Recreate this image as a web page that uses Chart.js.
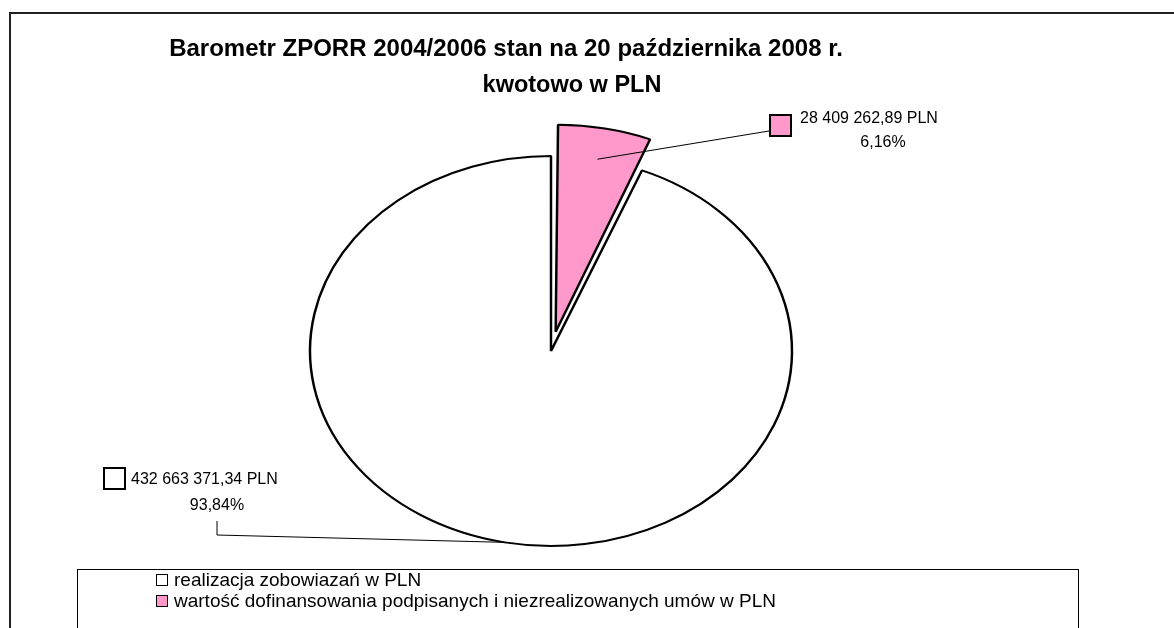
<!DOCTYPE html>
<html><head><meta charset="utf-8">
<script src="https://cdn.jsdelivr.net/npm/chart.js@4.4.0/dist/chart.umd.min.js"></script>
<style>html,body{margin:0;padding:0;background:#fff;}canvas{display:block;}</style>
</head><body>
<canvas id="c" width="1174" height="628"></canvas>
<script>
// ---- data ----
const titleLines = ['Barometr ZPORR 2004/2006 stan na 20 października 2008 r.', 'kwotowo w PLN'];
const categories = ['realizacja zobowiazań w PLN', 'wartość dofinansowania podpisanych i niezrealizowanych umów w PLN'];
const values = [432663371.34, 28409262.89];
const colors = ['#FFFFFF', '#FF99CC'];

// ---- helpers ----
const FONT = "'Liberation Sans', Arial, sans-serif";
function fmtPLN(v) {
  const parts = v.toFixed(2).split('.');
  const intp = parts[0].replace(/\B(?=(\d{3})+(?!\d))/g, ' ');
  return intp + ',' + parts[1] + ' PLN';
}
function fmtPct(v, total) { return (v / total * 100).toFixed(2).replace('.', ',') + '%'; }
const total = values.reduce((a, b) => a + b, 0);

// ---- layout ----
const SX = 241 / 195;           // horizontal stretch (elliptical pie)
const RADIUS = 195;
const labelLayout = [
  { box: [103, 467], text: [131, 480], pct: [217, 506], anchorK: 1.0, leader: [[217, 521], [217, 535]] },
  { box: [769, 114], text: [800, 119], pct: [883, 143], anchorK: 0.84, leader: [[769, 131]] }
];

const ellipsePlugin = {
  id: 'ellipse',
  beforeDraw(chart) {
    const ctx = chart.ctx;
    ctx.save();
    ctx.fillStyle = '#fff';
    ctx.fillRect(0, 0, chart.width, chart.height);
    ctx.strokeStyle = '#222';
    ctx.lineWidth = 2;
    ctx.strokeRect(10, 13, 1300, 800);
    ctx.fillStyle = '#000';
    ctx.font = 'bold 24px ' + FONT;
    ctx.textAlign = 'center';
    ctx.textBaseline = 'alphabetic';
    ctx.fillText(titleLines[0], 506, 56);
    ctx.font = 'bold 23.5px ' + FONT;
    ctx.fillText(titleLines[1], 572, 92);
    ctx.restore();
  },
  beforeDatasetsDraw(chart) {
    const a = chart.getDatasetMeta(0).data[0];
    const ctx = chart.ctx;
    ctx.save();
    ctx.translate(a.x, a.y);
    ctx.scale(SX, 1);
    ctx.translate(-a.x, -a.y);
  },
  afterDatasetsDraw(chart) {
    chart.ctx.restore();
  },
  afterDraw(chart) {
    const ctx = chart.ctx;
    const meta = chart.getDatasetMeta(0);
    ctx.save();
    meta.data.forEach((arc, i) => {
      const L = labelLayout[i];
      const p = arc.getProps(['x', 'y', 'startAngle', 'endAngle', 'outerRadius', 'circumference']);
      const off = (arc.options.offset || 0) / 4;
      const fix = 1 - Math.sin(Math.min(Math.PI, p.circumference || 0));
      const d = off * (1 + fix);
      const h = (p.startAngle + p.endAngle) / 2;
      const rr = d + L.anchorK * p.outerRadius;
      const ax = p.x + Math.cos(h) * rr * SX;
      const ay = p.y + Math.sin(h) * rr;
      ctx.strokeStyle = '#000';
      ctx.lineWidth = 1;
      ctx.beginPath();
      ctx.moveTo(ax, ay);
      for (let k = L.leader.length - 1; k >= 0; k--) ctx.lineTo(L.leader[k][0], L.leader[k][1]);
      ctx.stroke();
      ctx.fillStyle = colors[i];
      ctx.fillRect(L.box[0], L.box[1], 23, 23);
      ctx.lineWidth = 2;
      ctx.strokeRect(L.box[0] + 1, L.box[1] + 1, 21, 21);
      ctx.fillStyle = '#000';
      ctx.font = '16px ' + FONT;
      ctx.textBaseline = 'middle';
      ctx.textAlign = 'left';
      ctx.fillText(fmtPLN(values[i]), L.text[0], L.text[1]);
      ctx.textAlign = 'center';
      ctx.fillText(fmtPct(values[i], total), L.pct[0], L.pct[1]);
    });
    ctx.strokeStyle = '#000';
    ctx.lineWidth = 1;
    ctx.strokeRect(77.5, 569.5, 1001, 200);
    ctx.font = '19px ' + FONT;
    ctx.textAlign = 'left';
    ctx.textBaseline = 'middle';
    const ly = [580, 601];
    chart.data.labels.forEach((lab, i) => {
      ctx.fillStyle = chart.data.datasets[0].backgroundColor[i];
      ctx.fillRect(156.5, ly[i] - 5.5, 11, 11);
      ctx.strokeStyle = '#000';
      ctx.strokeRect(156.5, ly[i] - 5.5, 11, 11);
      ctx.fillStyle = '#000';
      ctx.fillText(lab, 174, ly[i] + 1);
    });
    ctx.restore();
  }
};

new Chart(document.getElementById('c'), {
  type: 'pie',
  data: {
    labels: categories,
    datasets: [{
      data: values,
      backgroundColor: colors,
      borderColor: '#000',
      borderWidth: 2,
      offset: [0, 78]
    }]
  },
  options: {
    responsive: false,
    animation: false,
    devicePixelRatio: 1,
    rotation: values[1] / total * 360,
    radius: RADIUS,
    layout: { padding: { left: 0, right: 72, top: 74, bottom: 0 } },
    plugins: { legend: { display: false }, tooltip: { enabled: false }, title: { display: false } }
  },
  plugins: [ellipsePlugin]
});
</script>
</body></html>
